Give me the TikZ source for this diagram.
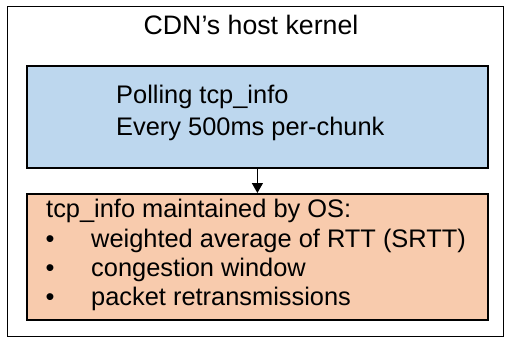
\documentclass[tikz,border=0pt]{standalone}
\usepackage{fontspec}
\setmainfont{Liberation Sans}
\usetikzlibrary{arrows.meta}

\definecolor{pollblue}{HTML}{BDD7EE}
\definecolor{osorange}{HTML}{F8CBAD}

\tikzset{
    box/.style={draw, line width=1.8bp, anchor=north west, inner sep=0pt},
    txt/.style={anchor=base west, inner sep=0pt},
}

\begin{document}
\begin{tikzpicture}[x=1bp, y=-1bp, font=\fontsize{25.5}{30}\selectfont]
    \useasboundingbox (0,0) rectangle (506,337);

    % outer frame: the host kernel
    \node[draw, line width=1bp, anchor=north west, inner sep=0pt,
          minimum width=496bp, minimum height=330bp] (host) at (7,6) {};
    \node[anchor=base, inner sep=0pt, font=\fontsize{26.8}{30}\selectfont] (hosttitle) at (251,34) {CDN’s host kernel};

    % polling box
    \node[box, fill=pollblue, minimum width=461bp, minimum height=102bp] (poll) at (26,65) {};
    \node[txt] (pollA) at (116,103) {Polling tcp\_info};
    \node[txt] (pollB) at (116,135) {Every 500ms per-chunk};

    % tcp_info box
    \node[box, fill=osorange, minimum width=461bp, minimum height=126bp] (tcpinfo) at (26,193) {};
    \node[txt] (infohead) at (46,217) {tcp\_info maintained by OS:};
    \foreach \y/\item/\name in {247/weighted average of RTT (SRTT)/srtt,
                                276/congestion window/cwnd,
                                305/packet retransmissions/retx} {
        \node[anchor=base, inner sep=0pt] (\name dot) at (50,\y) {•};
        \node[txt] (\name) at (91,\y) {\item};
    }

    % polling reads tcp_info
    \draw[line width=1.4bp, -{Triangle[length=10bp, width=11bp]}] (poll.south) -- (tcpinfo.north);
\end{tikzpicture}
\end{document}
